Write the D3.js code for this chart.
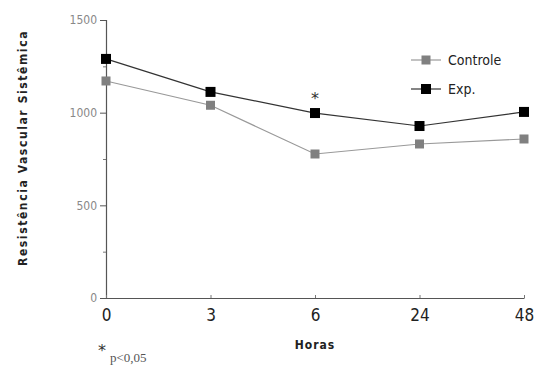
<!DOCTYPE html>
<html><head><meta charset="utf-8">
<script src="https://cdn.jsdelivr.net/npm/d3@7"></script>
<style>body{margin:0;background:#fff}svg{display:block}</style>
</head><body>
<svg id="c" width="543" height="371"></svg>
<script>
const hours = ["0","3","6","24","48"];
const controle = [1171,1040,777,831,858];
const exp = [1290,1112,998,928,1004];
const yTicks = [0,500,1000,1500];
const yMinor = [250,750,1250];
const sigHours = ["6"];

const svg = d3.select("#c");
const x = d3.scalePoint().domain(hours).range([106,524]);
const y = d3.scaleLinear().domain([0,1500]).range([298,20]);

// y axis
const ya = svg.append("g").attr("transform","translate(106,0)")
  .call(d3.axisLeft(y).tickValues(yTicks).tickSize(6).tickPadding(3).tickFormat(d3.format("d")));
ya.select(".domain").attr("stroke","#555").attr("stroke-width",1.2);
ya.selectAll(".tick line").attr("stroke","#555");
ya.selectAll("text").attr("fill","#888").style("font-family","DejaVu Sans Condensed, DejaVu Sans").style("font-size","12px");
svg.append("g").attr("transform","translate(106,0)")
  .call(d3.axisLeft(y).tickValues(yMinor).tickSize(3).tickFormat(""))
  .call(g=>g.select(".domain").remove())
  .selectAll("line").attr("stroke","#777");

// x axis
const xa = svg.append("g").attr("transform","translate(0,298)")
  .call(d3.axisBottom(x).tickSizeInner(-3).tickSizeOuter(0).tickPadding(11));
xa.select(".domain").attr("stroke","#555").attr("stroke-width",1.2);
xa.selectAll(".tick line").attr("stroke","#777");
xa.selectAll("text").attr("fill","#222").style("font-family","DejaVu Sans Condensed, DejaVu Sans").style("font-size","17px");

// lines
const line = d3.line().x((d,i)=>x(hours[i])).y(d=>y(d));
svg.append("path").datum(controle).attr("d",line).attr("fill","none").attr("stroke","#999").attr("stroke-width",1.2);
svg.append("path").datum(exp).attr("d",line).attr("fill","none").attr("stroke","#333").attr("stroke-width",1.2);

svg.selectAll(".mc").data(controle).enter().append("rect")
  .attr("x",(d,i)=>x(hours[i])-4.5).attr("y",d=>y(d)-4.5).attr("width",9).attr("height",9).attr("fill","#808080");
svg.selectAll(".me").data(exp).enter().append("rect")
  .attr("x",(d,i)=>x(hours[i])-5).attr("y",d=>y(d)-5).attr("width",10).attr("height",10).attr("fill","#000");

// significance asterisk
svg.selectAll(".sig").data(sigHours).enter().append("text")
  .attr("x",d=>x(d)).attr("y",d=>y(exp[hours.indexOf(d)])-9)
  .attr("text-anchor","middle").style("font-family","DejaVu Sans").style("font-size","16px").attr("fill","#333").text("*");

// legend
const leg = [{n:"Controle",c:"#999",m:"#808080",s:9,yy:60},{n:"Exp.",c:"#333",m:"#000",s:10,yy:89}];
leg.forEach(l=>{
  svg.append("line").attr("x1",411).attr("x2",441).attr("y1",l.yy).attr("y2",l.yy).attr("stroke",l.c).attr("stroke-width",1.2);
  svg.append("rect").attr("x",426-l.s/2).attr("y",l.yy-l.s/2).attr("width",l.s).attr("height",l.s).attr("fill",l.m);
  svg.append("text").attr("x",448).attr("y",l.yy+5).style("font-family","DejaVu Sans Condensed, DejaVu Sans").style("font-size","14px").attr("fill","#222").text(l.n);
});

// axis titles
svg.append("text").attr("x",315).attr("y",349).attr("text-anchor","middle")
  .style("font-family","DejaVu Sans Condensed, DejaVu Sans").style("font-size","12px").style("letter-spacing","1px").style("font-weight","bold").attr("fill","#222").text("Horas");
svg.append("text").attr("transform","translate(27,148) rotate(-90)").attr("text-anchor","middle")
  .style("font-family","DejaVu Sans Condensed, DejaVu Sans").style("font-size","12px").style("letter-spacing","1.6px").style("font-weight","bold").attr("fill","#222").text("Resistência Vascular Sistêmica");

// footnote
svg.append("text").attr("x",98).attr("y",356).style("font-family","DejaVu Sans").style("font-size","16px").attr("fill","#333").text("*");
svg.append("text").attr("x",110).attr("y",362).style("font-family","Liberation Serif").style("font-size","13px").attr("fill","#555").text("p<0,05");
</script>
</body></html>
